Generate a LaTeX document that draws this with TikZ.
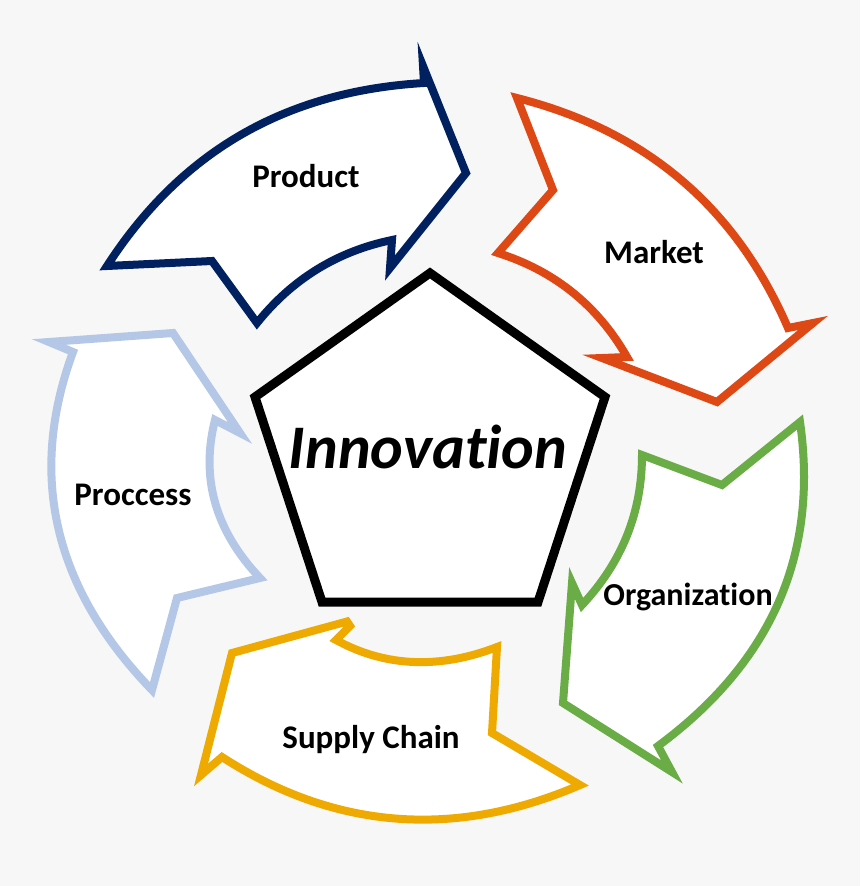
\documentclass[tikz,border=0pt]{standalone}
\usepackage{fontspec}
\setmainfont{Carlito}[Ligatures=NoCommon]
\definecolor{bgc}{HTML}{F7F7F7}
\definecolor{navy}{HTML}{002060}
\definecolor{orng}{RGB}{222,72,20}
\definecolor{grn}{RGB}{106,172,70}
\definecolor{gold}{RGB}{238,170,0}
\definecolor{lblue}{HTML}{B4C7E7}
\begin{document}
\begin{tikzpicture}[x=1pt,y=-1pt,
  arrowshape/.style={line width=8pt, fill=white, line join=miter, miter limit=20},
  lbl/.style={font=\fontsize{33}{33}\selectfont\bfseries, anchor=base, inner sep=0pt},
  centre/.style={font=\fontsize{62}{62}\selectfont\bfseries\itshape, anchor=base, inner sep=0pt}]
\fill[bgc] (0,0) rectangle (860,886);
\useasboundingbox (0,0) rectangle (860,886);
% Product
\draw[arrowshape, draw=navy] (107,266) .. controls (180.3,152.7) and (283.7,91.3) .. (424,83) -- (423,66) -- (466,173) -- (390,268) -- (392,240) .. controls (337.3,251.3) and (292.3,279) .. (257,323) -- (212,261) -- cycle;
% Market
\draw[arrowshape, draw=orng] (517,98) .. controls (645.7,130.7) and (735.7,207) .. (788,328) -- (813,323) -- (717,402) -- (602,358) -- (627,357) .. controls (597.7,305.7) and (554.7,271) .. (498,253) -- (553,190) -- cycle;
% Organization
\draw[arrowshape, draw=grn] (642,455) -- (722,485) -- (800,422) .. controls (818.7,554) and (772,661.7) .. (658,746) -- (672,772) -- (563,703) -- (572,583) -- (582,605) .. controls (622,562.3) and (642,512.3) .. (642,455) -- cycle;
% Supply chain
\draw[arrowshape, draw=gold] (497,647) -- (492,733) -- (580,785) .. controls (453.3,839.7) and (333.3,829) .. (222,757) -- (201,775) -- (232,653) -- (347,621.5) -- (350,626) -- (336,640) .. controls (385.7,667.3) and (440.3,669) .. (497,647) -- cycle;
% Process
\draw[arrowshape, draw=lblue] (49,342) -- (173,333) -- (240,433) -- (215,420) .. controls (200.3,478) and (215.3,530.7) .. (260,578) -- (177,598) -- (152,690) .. controls (54,588.7) and (27.3,475.7) .. (73,352) -- cycle;
% Pentagon
\draw[line width=9pt, fill=white, line join=miter] (430,273) -- (605,397) -- (538,602) -- (322,602) -- (255,397) -- cycle;
\node[centre] (innov) at (428,468) {Innovation};
\node[lbl] (product) at (306,187) {Product};
\node[lbl] (market) at (654,263) {Market};
\node[lbl, font=\fontsize{32}{32}\selectfont\bfseries] (org) at (688,605) {Organization};
\node[lbl] (supply) at (371,748) {Supply Chain};
\node[lbl] (process) at (133,505) {Proccess};
\end{tikzpicture}
\end{document}
